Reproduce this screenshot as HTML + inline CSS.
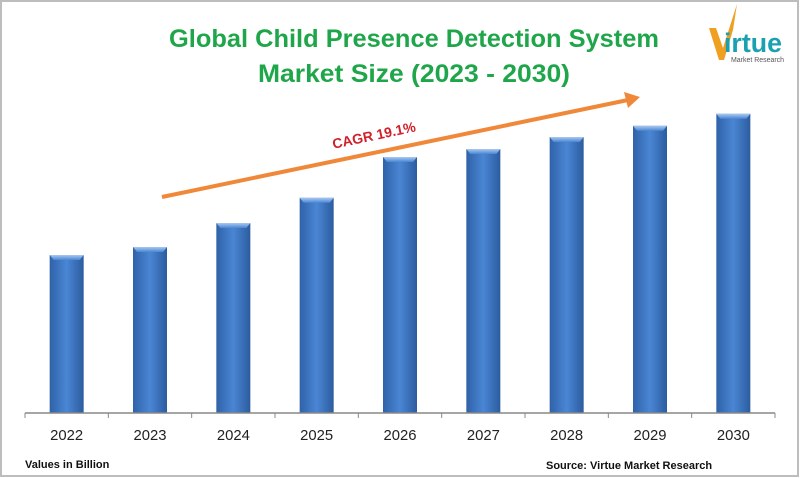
<!DOCTYPE html>
<html><head><meta charset="utf-8"><style>
body{margin:0;background:#fff;}
#wrap{position:relative;width:800px;height:478px;overflow:hidden;font-family:"Liberation Sans",sans-serif;}
</style></head><body>
<div id="wrap">
<svg id="chart" width="800" height="478" viewBox="0 0 800 478">
<defs>
<linearGradient id="barg" x1="0" x2="1" y1="0" y2="0">
<stop offset="0" stop-color="#2f62a8"/><stop offset="0.5" stop-color="#4a86d4"/><stop offset="1" stop-color="#2c5c9f"/>
</linearGradient>
<linearGradient id="topg" x1="0" x2="0" y1="0" y2="1">
<stop offset="0" stop-color="#a9c9f0"/><stop offset="1" stop-color="#4a86d4"/>
</linearGradient>
</defs>
<rect x="1" y="1" width="797" height="475" fill="#fff" stroke="#bdbdbd" stroke-width="2"/>
<text x="414" y="47" text-anchor="middle" font-size="25" font-weight="bold" fill="#1fa64a" textLength="490" lengthAdjust="spacingAndGlyphs">Global   Child Presence Detection System</text>
<text x="414" y="82" text-anchor="middle" font-size="25" font-weight="bold" fill="#1fa64a" textLength="312" lengthAdjust="spacingAndGlyphs">Market Size  (2023 - 2030)</text>
<g id="logo">
<path d="M709 28 L716 28 L723 48 L737 4 L733 30 L724 60 L719 60 Z" fill="#f0a020"/>
<text x="724" y="52" font-size="27" font-weight="bold" fill="#1aa0b0" textLength="58" lengthAdjust="spacingAndGlyphs">irtue</text>
<text x="731" y="62" font-size="7" fill="#555" textLength="53" lengthAdjust="spacingAndGlyphs">Market Research</text>
</g>
<g id="bars"></g>
<g id="axis"></g>
<line x1="162" y1="197" x2="628" y2="100" stroke="#f0883a" stroke-width="4"/>
<polygon points="640,97 624,92 628,108" fill="#f0883a"/>
<text x="375" y="140" text-anchor="middle" font-size="14" font-weight="bold" fill="#d0202a" transform="rotate(-12 375 140)">CAGR 19.1%</text>
<text x="25" y="468" font-size="11" font-weight="bold" fill="#111">Values in Billion</text>
<text x="546" y="469" font-size="11" font-weight="bold" fill="#111">Source: Virtue Market Research</text>
</svg>
</div>
<script>
const categories = ["2022","2023","2024","2025","2026","2027","2028","2029","2030"];
const values = [3.95, 4.15, 4.75, 5.38, 6.40, 6.60, 6.90, 7.18, 7.48];
const NS = "http://www.w3.org/2000/svg";
const x0 = 25, x1 = 775, baseY = 413, pxPerUnit = 40, barW = 34;
const step = (x1 - x0) / categories.length;
function xScale(i){ return x0 + step * (i + 0.5); }
function yScale(v){ return baseY - v * pxPerUnit; }
const bars = document.getElementById('bars');
const axis = document.getElementById('axis');
categories.forEach((c, i) => {
  const cx = xScale(i), top = yScale(values[i]);
  const r = document.createElementNS(NS, 'rect');
  r.setAttribute('x', cx - barW/2); r.setAttribute('y', top);
  r.setAttribute('width', barW); r.setAttribute('height', baseY - top);
  r.setAttribute('fill', 'url(#barg)');
  
  
  bars.appendChild(r);
  const t = document.createElementNS(NS, 'polygon');
  t.setAttribute('points', `${cx-barW/2},${top} ${cx+barW/2},${top} ${cx+barW/2-4},${top+5} ${cx-barW/2+4},${top+5}`);
  t.setAttribute('fill', 'url(#topg)');
  
  
  bars.appendChild(t);
  const lab = document.createElementNS(NS, 'text');
  lab.setAttribute('x', cx); lab.setAttribute('y', 440);
  lab.setAttribute('text-anchor', 'middle'); lab.setAttribute('font-size', '15');
  lab.setAttribute('textLength', '33'); lab.setAttribute('lengthAdjust', 'spacingAndGlyphs');
  lab.setAttribute('fill', '#222');
  lab.textContent = c;
  
  
  axis.appendChild(lab);
});
const base = document.createElementNS(NS, 'line');
base.setAttribute('x1', x0); base.setAttribute('x2', x1);
base.setAttribute('y1', baseY); base.setAttribute('y2', baseY);
base.setAttribute('stroke', '#888'); base.setAttribute('stroke-width', '1.5');


axis.appendChild(base);
for (let i = 0; i <= categories.length; i++) {
  const tk = document.createElementNS(NS, 'line');
  const tx = x0 + step * i;
  tk.setAttribute('x1', tx); tk.setAttribute('x2', tx);
  tk.setAttribute('y1', baseY); tk.setAttribute('y2', baseY + 5);
  tk.setAttribute('stroke', '#888');
  
  
  axis.appendChild(tk);
}
</script>
</body></html>
